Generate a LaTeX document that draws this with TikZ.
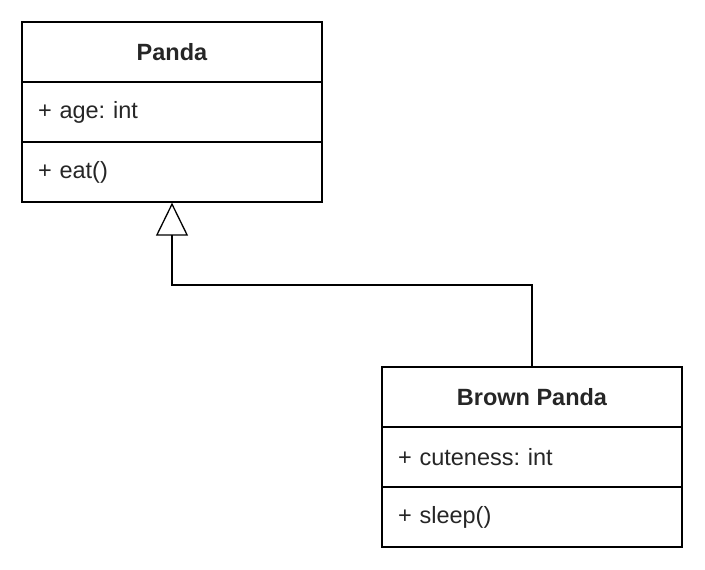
\documentclass[tikz,border=0pt]{standalone}
\usepackage{fontspec}
\setmainfont{Liberation Sans}
\usetikzlibrary{arrows.meta}
\frenchspacing
\begin{document}
\begin{tikzpicture}[x=1pt,y=1pt,
  row/.style={draw=black,line width=1.3pt,rectangle,minimum width=300pt,minimum height=60pt,inner sep=0pt,font=\fontsize{23.5}{28}\selectfont,text=black!85},
  titlerow/.style={row,font=\fontsize{23.5}{28}\selectfont\bfseries},
  member/.style={row,text width=268pt,align=left},
  inherit/.style={line width=1.3pt,-{Triangle[open,length=33pt,width=32pt,line width=1.3pt]}}]
\useasboundingbox (0,0) rectangle (705,-570);
\fill[white] (0,0) rectangle (705,-570);
\node[titlerow] (pt) at (172,-52) {Panda};
\node[member] (pa) at (172,-112) {+ age: int};
\node[member] (pm) at (172,-172) {+ eat()};
\node[titlerow] (bt) at (532,-397) {Brown Panda};
\node[member] (ba) at (532,-457) {+ cuteness: int};
\node[member] (bm) at (532,-517) {+ sleep()};
\coordinate (elbow) at (532,-285);
\draw[inherit] (bt.north) -- (elbow) -| (pm.south);
\end{tikzpicture}
\end{document}
